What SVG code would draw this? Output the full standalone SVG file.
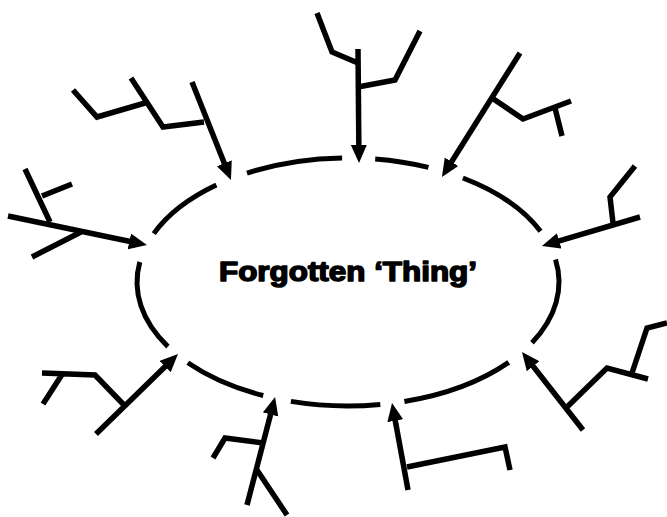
<svg xmlns="http://www.w3.org/2000/svg" width="667" height="517" viewBox="0 0 667 517">
<style>
.ring{fill:none;stroke:#000;stroke-width:5;stroke-linecap:butt}
.br{fill:none;stroke:#000;stroke-width:5.5;stroke-linecap:butt;stroke-linejoin:miter}
.shaft{fill:none;stroke:#000;stroke-width:5.5;stroke-linecap:butt;marker-end:url(#ah)}
.lbl{font-family:"Liberation Sans",Arial,sans-serif;font-weight:bold;font-size:27px;fill:#000;stroke:#000;stroke-width:1.5;stroke-linejoin:round}
</style>
<defs>
<marker id="ah" markerUnits="userSpaceOnUse" markerWidth="20" markerHeight="17" refX="7" refY="8" orient="auto">
<path d="M0,0 L18,8 L0,16 z" fill="#000"/>
</marker>
</defs>
<rect width="667" height="517" fill="#fff"/>
<g id="thing">
<path class="ring" d="M153.8,233.6 A211,124 0 0 1 216.4,185.1"/>
<path class="ring" d="M247.0,173.1 A211,124 0 0 1 342.1,158.0"/>
<path class="ring" d="M375.2,159.0 A211,124 0 0 1 428.4,167.4"/>
<path class="ring" d="M462.9,178.0 A211,124 0 0 1 540.5,231.2"/>
<path class="ring" d="M555.5,259.6 A211,124 0 0 1 532.0,342.7"/>
<path class="ring" d="M508.7,362.4 A211,124 0 0 1 404.4,401.5"/>
<path class="ring" d="M380.3,404.5 A211,124 0 0 1 290.9,401.4"/>
<path class="ring" d="M263.2,395.5 A211,124 0 0 1 187.8,362.7"/>
<path class="ring" d="M167.9,346.6 A211,124 0 0 1 139.8,262.0"/>
<text class="lbl" x="348" y="281" text-anchor="middle" textLength="258" lengthAdjust="spacingAndGlyphs">Forgotten ‘Thing’</text>
</g>
<g id="connectors">
<g id="cause1">
<path class="shaft" d="M8,216 L136.2,242.8"/>
<path class="br" d="M50,222 L25,169 M42,196 L72,184 M81,232 L32,257"/>
</g>
<g id="cause2">
<path class="shaft" d="M192,82 L226.9,169.8"/>
<path class="br" d="M204,122 L163,127 L131,78 M145,103 L97,117 L73,90"/>
</g>
<g id="cause3">
<path class="shaft" d="M358,49 L358.9,152"/>
<path class="br" d="M358,63 L332,52 L317,13 M358,87 L395,80 L420,31"/>
</g>
<g id="cause4">
<path class="shaft" d="M520,53 L447.8,167.7"/>
<path class="br" d="M492,98 L523,119 L571,101 M555,108 L562,136"/>
</g>
<g id="cause5">
<path class="shaft" d="M640,217 L552.5,242.9"/>
<path class="br" d="M613,223 L610,197 L635,166"/>
</g>
<g id="cause6">
<path class="shaft" d="M583,430 L528.8,360.7"/>
<path class="br" d="M567,407 L607,368 L648,379 M632,373 L647,328 L667,323"/>
</g>
<g id="cause7">
<path class="shaft" d="M408,490 L394,413.8"/>
<path class="br" d="M407,467 L505,447 L510,470"/>
</g>
<g id="cause8">
<path class="shaft" d="M247,505 L272.3,407.7"/>
<path class="br" d="M257,470 L287,515 M263,443 L225,438 L213,458"/>
</g>
<g id="cause9">
<path class="shaft" d="M96,434 L170.1,361.7"/>
<path class="br" d="M124,405 L95,375 L42,373 M63,373 L43,404"/>
</g>
</g>
</svg>
